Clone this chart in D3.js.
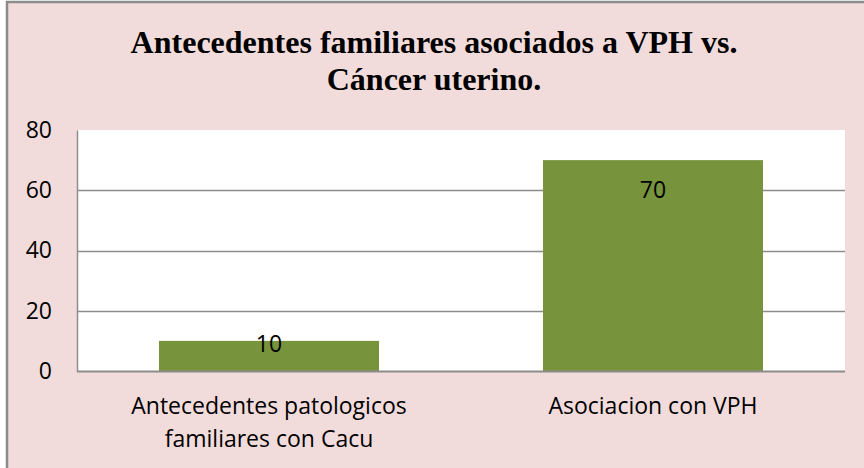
<!DOCTYPE html>
<html>
<head>
<meta charset="utf-8">
<script src="https://cdn.jsdelivr.net/npm/d3@7"></script>
<style>
  body { margin: 0; background: #ffffff; }
  svg { display: block; }
</style>
</head>
<body>
<div id="chart"></div>
<script>
// chart data
var categories = [["Antecedentes patologicos", "familiares con Cacu"], ["Asociacion con VPH"]];
var values = [10, 70];
var yTicks = [0, 20, 40, 60, 80];
var titleLines = ["Antecedentes familiares asociados a VPH vs.", "Cáncer uterino."];

var svgWidth = 864;
var svgHeight = 468;

var margin = { top: 130, right: 19, bottom: 97, left: 77 };
var chartWidth = svgWidth - margin.left - margin.right;
var chartHeight = svgHeight - margin.top - margin.bottom;

var labelFont = "'Open Sans', 'Noto Sans', sans-serif";

var svg = d3.select("#chart")
    .append("svg")
    .attr("width", svgWidth)
    .attr("height", svgHeight);

// pink chart area with gray border (runs off the right/bottom edge)
svg.append("rect")
    .attr("x", 7)
    .attr("y", 2)
    .attr("width", svgWidth + 10)
    .attr("height", svgHeight + 10)
    .attr("fill", "#F2DCDB")
    .attr("stroke", "#8c8c8c")
    .attr("stroke-width", 2.5);

// title
svg.append("g")
    .selectAll("text")
    .data(titleLines)
    .enter().append("text")
    .attr("x", 434)
    .attr("y", (d, i) => 53 + i * 37)
    .attr("text-anchor", "middle")
    .attr("font-family", "'Liberation Serif', 'Times New Roman', serif")
    .attr("font-weight", "bold")
    .attr("font-size", "32px")
    .attr("fill", "#000")
    .text(d => d);

var chartGroup = svg.append("g")
    .attr("transform", `translate(${margin.left}, ${margin.top})`);

var xScale = d3.scaleBand()
    .domain(d3.range(values.length))
    .range([0, chartWidth])
    .paddingInner(0.427)
    .paddingOuter(0.2135);

var yScale = d3.scaleLinear()
    .domain([0, 80])
    .range([chartHeight, 0]);

// plot area
chartGroup.append("rect")
    .attr("width", chartWidth)
    .attr("height", chartHeight)
    .attr("fill", "#ffffff");

// gridlines
chartGroup.append("g")
    .selectAll("line")
    .data(yTicks.filter(d => d > 0 && d < 80))
    .enter().append("line")
    .attr("x1", 0)
    .attr("x2", chartWidth)
    .attr("y1", d => Math.round(yScale(d)) + 0.5)
    .attr("y2", d => Math.round(yScale(d)) + 0.5)
    .attr("stroke", "#8c8c8c")
    .attr("stroke-width", 1.5);

// bars
chartGroup.append("g")
    .selectAll("rect")
    .data(values)
    .enter().append("rect")
    .attr("x", (d, i) => xScale(i))
    .attr("y", d => yScale(d))
    .attr("width", xScale.bandwidth())
    .attr("height", d => chartHeight - yScale(d))
    .attr("fill", "#77933C");

// value labels (inside end, kept above the axis for short bars)
chartGroup.append("g")
    .selectAll("text")
    .data(values)
    .enter().append("text")
    .attr("x", (d, i) => xScale(i) + xScale.bandwidth() / 2)
    .attr("y", d => Math.min(yScale(d) + 38, chartHeight - 19))
    .attr("text-anchor", "middle")
    .attr("font-family", labelFont)
    .attr("font-size", "23px")
    .attr("fill", "#000")
    .text(d => d);

// y axis
var leftAxis = d3.axisLeft(yScale)
    .tickValues(yTicks)
    .tickSize(0)
    .tickPadding(25);

var yAxis = chartGroup.append("g")
    .call(leftAxis);
yAxis.select(".domain")
    .attr("stroke", "#8c8c8c")
    .attr("stroke-width", 1.5);
yAxis.selectAll("text")
    .attr("font-family", labelFont)
    .attr("font-size", "23px")
    .attr("fill", "#000");

// x axis baseline
chartGroup.append("line")
    .attr("x1", 0)
    .attr("x2", chartWidth)
    .attr("y1", chartHeight + 0.5)
    .attr("y2", chartHeight + 0.5)
    .attr("stroke", "#8c8c8c")
    .attr("stroke-width", 2);

// category labels
var catGroup = chartGroup.append("g")
    .selectAll("text")
    .data(categories)
    .enter().append("text")
    .attr("x", (d, i) => xScale(i) + xScale.bandwidth() / 2)
    .attr("y", chartHeight + 43)
    .attr("text-anchor", "middle")
    .attr("font-family", labelFont)
    .attr("font-size", "23px")
    .attr("fill", "#000");

catGroup.selectAll("tspan")
    .data(d => d)
    .enter().append("tspan")
    .attr("x", function () { return d3.select(this.parentNode).attr("x"); })
    .attr("dy", (d, i) => i === 0 ? 0 : 33)
    .text(d => d);
</script>
</body>
</html>
